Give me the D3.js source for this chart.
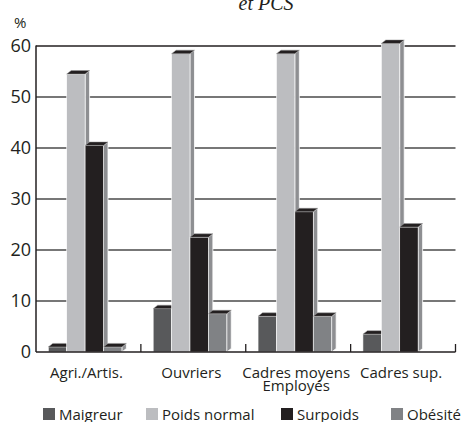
<!DOCTYPE html>
<html>
<head>
<meta charset="utf-8">
<script src="https://cdn.jsdelivr.net/npm/d3@7"></script>
<style>
  html, body { margin: 0; padding: 0; background: #fff; }
  svg { display: block; }
  text { font-family: "Open Sans", "Noto Sans", sans-serif; fill: #231f20; }
</style>
</head>
<body>
<svg id="chart" width="464" height="422"></svg>
<script>
// Répartition par IMC selon la PCS (%)
const categories = ["Agri./Artis.", "Ouvriers", "Cadres moyens\nEmployés", "Cadres sup."];
const series = ["Maigreur", "Poids normal", "Surpoids", "Obésité"];
const maigreur = [1, 8.5, 7, 3.5];
const poidsNormal = [54.5, 58.5, 58.5, 60.5];
const surpoids = [40.5, 22.5, 27.5, 24.5];
const obesite = [1, 7.5, 7, null];
const yTicks = [0, 10, 20, 30, 40, 50, 60];

const values = [maigreur, poidsNormal, surpoids, obesite];
const colors = ["#58595b", "#bcbdc0", "#231f20", "#808285"];

const width = 464;
const svg = d3.select("#chart");
const plotLeft = 36, plotRight = 455.5, plotTop = 46, plotBottom = 352;

const y = d3.scaleLinear().domain([0, 60]).range([plotBottom, plotTop]);
const x0 = d3.scaleBand().domain(categories).range([plotLeft, plotRight]).padding(0);
const x1 = d3.scaleBand().domain(series).range([12.3, 12.3 + 73.6]).padding(0);

// depth of the extruded bars
const dx = 4.5, dy = 3.5;

// title fragment at the top edge
svg.append("text")
  .attr("x", 266).attr("y", 10)
  .attr("text-anchor", "middle")
  .style("font-family", "'Liberation Serif', 'DejaVu Serif', serif")
  .style("font-style", "italic")
  .style("font-size", "20px")
  .text("et PCS");

// unit
svg.append("text")
  .attr("x", 14).attr("y", 28)
  .style("font-size", "15px")
  .text("%");

// horizontal gridlines
svg.append("g")
  .selectAll("line")
  .data(yTicks.filter(d => d > 0))
  .join("line")
  .attr("x1", plotLeft).attr("x2", plotRight)
  .attr("y1", d => y(d)).attr("y2", d => y(d))
  .attr("stroke", d => d === 60 ? "#231f20" : "#4a4a4a")
  .attr("stroke-width", 1.3);

// y axis
const yAxis = d3.axisLeft(y).tickValues(yTicks).tickSize(0).tickPadding(5);
const gy = svg.append("g").attr("transform", `translate(${plotLeft},0)`).call(yAxis);
gy.select(".domain").remove();
gy.selectAll("text")
  .style("font-family", "'Open Sans', 'Noto Sans', sans-serif")
  .style("font-size", "18px")
  .attr("fill", "#231f20");
svg.append("line")
  .attr("x1", plotLeft).attr("x2", plotLeft)
  .attr("y1", plotTop - 0.6).attr("y2", plotBottom)
  .attr("stroke", "#231f20").attr("stroke-width", 1.5);

// bars
const groups = svg.append("g")
  .selectAll("g")
  .data(categories)
  .join("g")
  .attr("transform", d => `translate(${x0(d)},0)`);

groups.each(function(cat, ci) {
  const g = d3.select(this);
  series.forEach((s, si) => {
    const v = values[si][ci];
    if (v == null) return;
    const xa = x1(s), w = x1.bandwidth();
    const yt = y(v), yb = y(0);
    // side face
    g.append("path")
      .attr("d", `M${xa + w},${yt} L${xa + w + dx},${yt - dy} L${xa + w + dx},${yb - dy} L${xa + w},${yb} Z`)
      .attr("fill", "#8e8f92")
      .attr("stroke", "#ffffff").attr("stroke-width", 0.8);
    // front face
    g.append("rect")
      .attr("x", xa).attr("y", yt)
      .attr("width", w).attr("height", yb - yt)
      .attr("fill", colors[si])
      .attr("stroke", "#ffffff").attr("stroke-width", 0.6);
    // top face
    g.append("path")
      .attr("d", `M${xa},${yt} L${xa + dx},${yt - dy} L${xa + w + dx},${yt - dy} L${xa + w},${yt} Z`)
      .attr("fill", "#231f20")
      .attr("stroke", "#9a9a9a").attr("stroke-width", 0.5);
  });
});

// x axis baseline and category separators
svg.append("line")
  .attr("x1", plotLeft).attr("x2", plotRight)
  .attr("y1", plotBottom).attr("y2", plotBottom)
  .attr("stroke", "#231f20").attr("stroke-width", 1.5);
svg.append("g")
  .selectAll("line")
  .data(categories)
  .join("line")
  .attr("x1", d => x0(d) + x0.bandwidth()).attr("x2", d => x0(d) + x0.bandwidth())
  .attr("y1", plotBottom).attr("y2", plotBottom - 8)
  .attr("stroke", "#231f20").attr("stroke-width", 1.3);

// category labels
const labels = svg.append("g")
  .selectAll("text")
  .data(categories)
  .join("text")
  .attr("text-anchor", "middle")
  .style("font-size", "15px")
  .attr("x", d => x0(d) + x0.bandwidth() / 2 - 2)
  .attr("y", 378);
labels.each(function(d) {
  const t = d3.select(this);
  const x = t.attr("x");
  d.split("\n").forEach((line, i) => {
    t.append("tspan").attr("x", x).attr("dy", i === 0 ? 0 : 12.5).text(line);
  });
});

// legend
const legendX = [43, 146, 281, 405];
const legend = svg.append("g")
  .selectAll("g")
  .data(series)
  .join("g");
legend.append("rect")
  .attr("width", 12).attr("height", 12)
  .attr("fill", (d, i) => colors[i]);
legend.append("text")
  .attr("x", 16).attr("y", 11.5)
  .style("font-size", "15px")
  .text(d => d);
// place each entry, pulling the last one left so it stays inside the frame
legend.each(function(d, i) {
  const len = d3.select(this).select("text").node().getComputedTextLength();
  const x = Math.min(legendX[i], width - 3 - 16 - len);
  d3.select(this).attr("transform", `translate(${x},408)`);
});
</script>
</body>
</html>
